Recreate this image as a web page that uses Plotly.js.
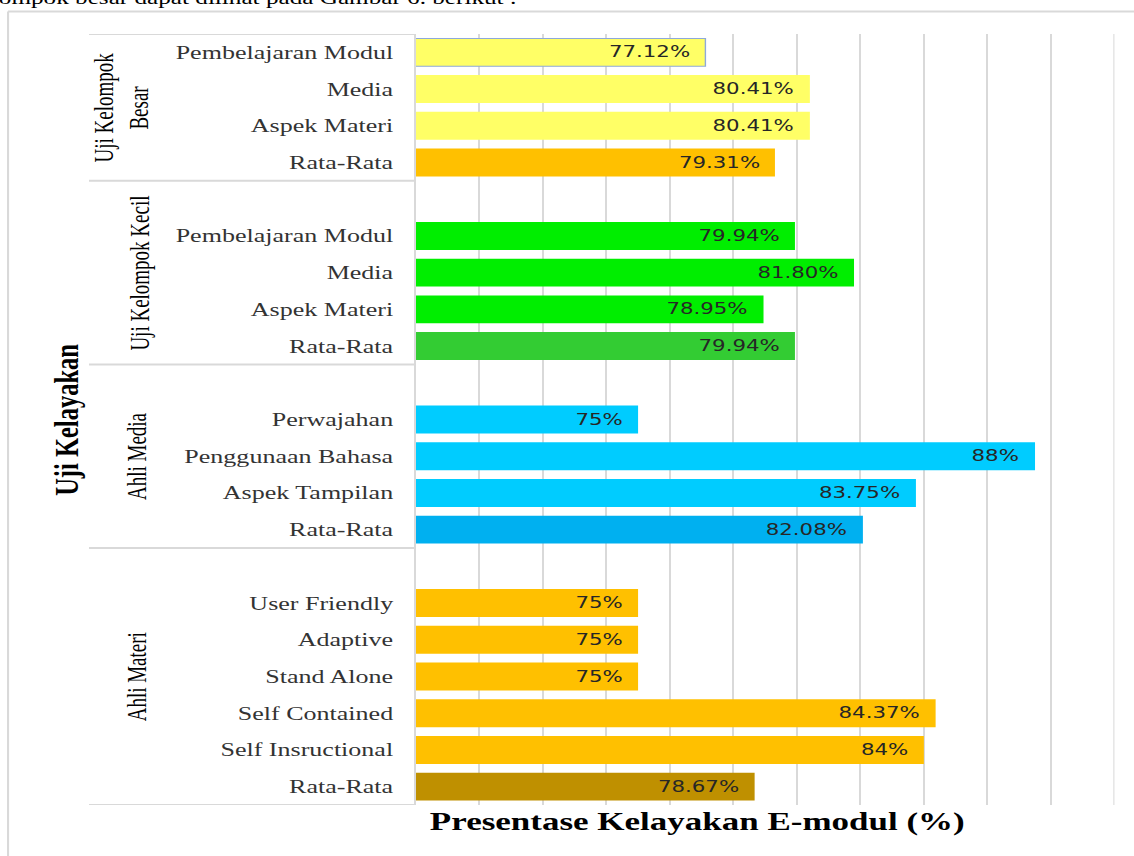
<!DOCTYPE html>
<html>
<head>
<meta charset="utf-8">
<script src="https://cdn.plot.ly/plotly-3.0.1.min.js"></script>
<style>
  html, body { margin: 0; padding: 0; background: #ffffff; overflow: hidden; }
  #wrap { width: 810px; height: 856px; transform: scaleX(1.4); transform-origin: 0 0; }
</style>
</head>
<body>
<div id="wrap"><div id="chart"></div></div>
<script>
// ---------------- data ----------------
const groupNames = ["Uji Kelompok<br>Besar", "Uji Kelompok Kecil", "Ahli Media", "Ahli Materi"];

const besarCategories = ["Pembelajaran Modul", "Media", "Aspek Materi", "Rata-Rata"];
const besarValues     = [77.12, 80.41, 80.41, 79.31];
const besarLabels     = ["77.12%", "80.41%", "80.41%", "79.31%"];

const kecilCategories = ["Pembelajaran Modul", "Media", "Aspek Materi", "Rata-Rata"];
const kecilValues     = [79.94, 81.80, 78.95, 79.94];
const kecilLabels     = ["79.94%", "81.80%", "78.95%", "79.94%"];

const mediaCategories = ["Perwajahan", "Penggunaan Bahasa", "Aspek Tampilan", "Rata-Rata"];
const mediaValues     = [75, 87.5, 83.75, 82.08];
const mediaLabels     = ["75%", "88%", "83.75%", "82.08%"];

const materiCategories = ["User Friendly", "Adaptive", "Stand Alone", "Self Contained", "Self Insructional", "Rata-Rata"];
const materiValues     = [75, 75, 75, 84.37, 84, 78.67];
const materiLabels     = ["75%", "75%", "75%", "84.37%", "84%", "78.67%"];

const xAxisMin = 68, xAxisMax = 90, xAxisStep = 2;

const yAxisTitle = "Uji Kelayakan";
const xAxisTitle = "Presentase Kelayakan E-modul (%)";
const pageText   = "ompok besar dapat dilihat pada Gambar 6. berikut :";

// ---------------- styles ----------------
const groupStyles = [
  { item: "#FFFF66", avg: "#FFC000" },
  { item: "#00EE00", avg: "#33CC33" },
  { item: "#00CCFF", avg: "#00B0F0" },
  { item: "#FFC000", avg: "#BF9000" }
];
const gridColor = "#d9d9d9";

// ---------------- geometry helpers ----------------
const S = 1.4, W = 810, H = 856;
const L = 416 / S, R = W - 1115 / S, T = 33.5, B = H - 805.5;
const PW = W - L - R, PH = H - T - B;
const px = x => (x / S - L) / PW;     // reference pixel x -> paper
const py = y => (H - B - y) / PH;     // reference pixel y -> paper

// ---------------- build rows ----------------
const groups = [
  { name: groupNames[0], cats: besarCategories,  vals: besarValues,  labels: besarLabels },
  { name: groupNames[1], cats: kecilCategories,  vals: kecilValues,  labels: kecilLabels },
  { name: groupNames[2], cats: mediaCategories,  vals: mediaValues,  labels: mediaLabels },
  { name: groupNames[3], cats: materiCategories, vals: materiValues, labels: materiLabels }
];

let row = 0;
const ys = [], xs = [], texts = [], colors = [], lineW = [], lineC = [];
const tickvals = [], ticktext = [], bounds = [-0.5], centers = [];
groups.forEach((g, gi) => {
  const start = row - 0.5;
  if (gi > 0) row++;               // empty spacer row
  g.cats.forEach((c, i) => {
    ys.push(row); xs.push(g.vals[i]); texts.push(g.labels[i]);
    colors.push(i === g.cats.length - 1 ? groupStyles[gi].avg : groupStyles[gi].item);
    const outlined = (gi === 0 && i === 0);
    lineW.push(outlined ? 1 : 0);
    lineC.push(outlined ? "#8EA9DB" : "rgba(0,0,0,0)");
    tickvals.push(row); ticktext.push(c);
    row++;
  });
  const end = row - 0.5;
  bounds.push(end);
  centers.push((start + end) / 2);
});

const trace = {
  type: "bar",
  orientation: "h",
  x: xs,
  y: ys,
  marker: { color: colors, line: { color: lineC, width: lineW } },
  hoverinfo: "x+y"
};

const annotations = [];
// data labels
xs.forEach((v, i) => {
  annotations.push({
    x: v, y: ys[i], xref: "x", yref: "y", text: texts[i],
    xanchor: "right", yanchor: "middle", xshift: -9, showarrow: false,
    font: { family: "DejaVu Sans", size: 15.2, color: "#262626" }
  });
});
// group labels
const groupX = [122, 140, 137, 137];
groups.forEach((g, gi) => {
  annotations.push({
    x: px(groupX[gi]), y: centers[gi], xref: "paper", yref: "y", text: g.name,
    textangle: -90, showarrow: false, xanchor: "center", yanchor: "middle",
    font: { family: "Liberation Serif", size: 19, color: "#000000" }
  });
});
// axis titles
annotations.push({
  x: px(67), y: py(420), xref: "paper", yref: "paper", text: "<b>" + yAxisTitle + "</b>",
  textangle: -90, showarrow: false, xanchor: "center", yanchor: "middle",
  font: { family: "Liberation Serif", size: 24.5, color: "#000000" }
});
annotations.push({
  x: px(698), y: py(823), xref: "paper", yref: "paper", text: "<b>" + xAxisTitle + "</b>",
  showarrow: false, xanchor: "center", yanchor: "middle",
  font: { family: "Liberation Serif", size: 25, color: "#000000" }
});
// page text (cropped at top, as in the source page)
annotations.push({
  x: px(-4), y: py(9), xref: "paper", yref: "paper", text: pageText,
  showarrow: false, xanchor: "left", yanchor: "bottom",
  font: { family: "Liberation Serif", size: 18, color: "#000000" }
});

const shapes = [];
bounds.forEach(b => {
  shapes.push({ type: "line", xref: "paper", yref: "y", x0: px(89), x1: 0, y0: b, y1: b,
    line: { color: gridColor, width: 2 } });
});
// last vertical gridline at the right end of the value axis
shapes.push({ type: "line", xref: "x", yref: "paper", x0: xAxisMax, x1: xAxisMax, y0: 0, y1: 1,
  layer: "below", line: { color: gridColor, width: 1.45 } });
// outer frame
shapes.push({ type: "line", xref: "paper", yref: "paper", x0: px(8), x1: 1.1, y0: py(11), y1: py(11),
  line: { color: gridColor, width: 2 } });
shapes.push({ type: "line", xref: "paper", yref: "paper", x0: px(8), x1: px(8), y0: py(11), y1: py(900),
  line: { color: gridColor, width: 1.5 } });

const layout = {
  width: W, height: H,
  margin: { l: L, r: R, t: T, b: B, pad: 0 },
  paper_bgcolor: "#ffffff", plot_bgcolor: "#ffffff",
  showlegend: false,
  bargap: 0.24,
  xaxis: {
    range: [xAxisMin, xAxisMax], tick0: xAxisMin, dtick: xAxisStep, showticklabels: false, ticks: "",
    showgrid: true, gridcolor: gridColor, gridwidth: 1.45, zeroline: false, showline: false,
    fixedrange: true
  },
  yaxis: {
    range: [20.5, -0.5], tickmode: "array", tickvals: tickvals, ticktext: ticktext,
    showgrid: false, zeroline: false, showline: true, linecolor: gridColor, linewidth: 1.45,
    ticks: "", ticklabelstandoff: 11,
    tickfont: { family: "Liberation Serif", size: 18.6, color: "#333333" },
    automargin: false, fixedrange: true
  },
  annotations: annotations,
  shapes: shapes
};

Plotly.newPlot("chart", [trace], layout, { displayModeBar: false, staticPlot: true });
</script>
</body>
</html>
